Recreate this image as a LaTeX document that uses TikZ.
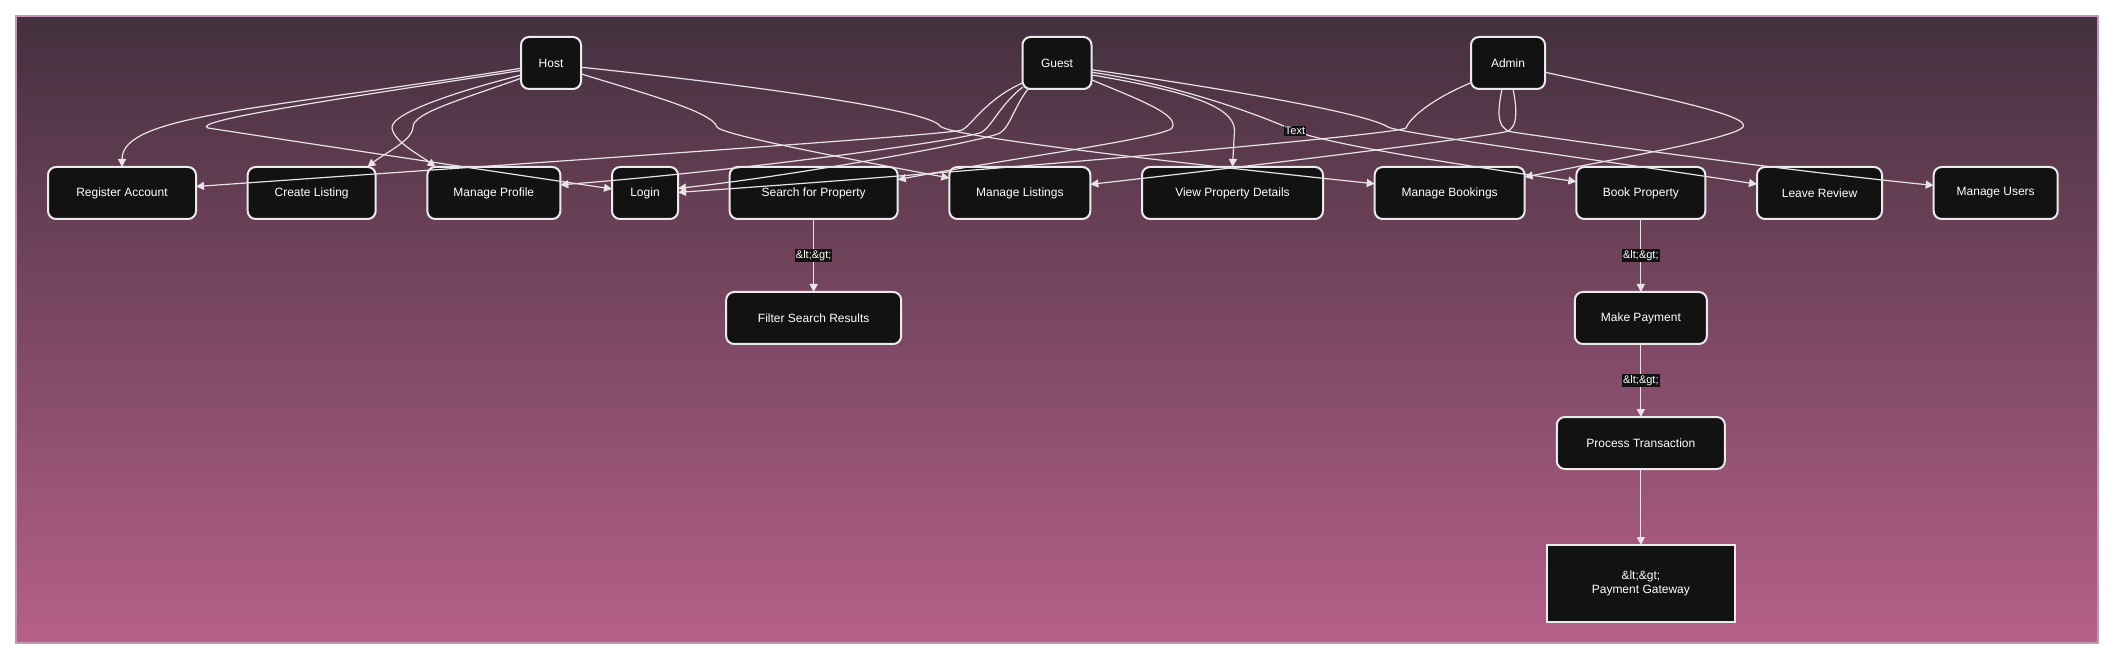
\documentclass[tikz,border=0pt]{standalone}
\usepackage{fontspec}
\setmainfont{Liberation Sans}
\usetikzlibrary{arrows.meta,positioning}

\definecolor{bgtop}{HTML}{43303D}
\definecolor{bgbot}{HTML}{B6608A}
\definecolor{bgline}{HTML}{C596B6}
\definecolor{boxfill}{HTML}{121212}
\definecolor{boxline}{HTML}{EAEAEA}
\definecolor{edgecol}{HTML}{E8E2E6}

\tikzset{
  box/.style={draw=boxline,line width=1.5pt,fill=boxfill,rounded corners=6pt,text=white,
    font=\fontsize{9}{11}\selectfont,minimum height=39pt,outer sep=0pt,inner sep=2pt},
  sbox/.style={box,sharp corners,align=center},
  lbl/.style={fill=boxfill,text=white,font=\fontsize{8.25}{10}\selectfont,inner sep=0.75pt},
  conn/.style={draw=edgecol,line width=0.9pt}
}

\begin{document}
\begin{tikzpicture}[x=0.75pt,y=-0.75pt,>={Triangle[length=6pt,width=6pt]},node distance=54.75pt and 38.75pt]

                \useasboundingbox (0,0) rectangle (2114,659);
                \shade[top color=bgtop,bottom color=bgbot] (16,16) rectangle (2098,643);
                \draw[bgline,line width=1.5pt] (16,16) rectangle (2098,643);

                \node[box,minimum width=45pt] (host) at (551,63) {Host};
                \node[box,minimum width=51.75pt] (guest) at (1057,63) {Guest};
                \node[box,minimum width=55.5pt] (admin) at (1508,63) {Admin};

                \node[box,minimum width=111pt] (reg) at (122,193) {Register Account};
                \node[box,minimum width=96pt] (createl) [right=of reg] {Create Listing};
                \node[box,minimum width=99.75pt] (mprof) [right=of createl] {Manage Profile};
                \node[box,minimum width=49.5pt] (login) [right=of mprof] {Login};
                \node[box,minimum width=126pt] (search) [right=of login] {Search for Property};
                \node[box,minimum width=105.75pt] (mlist) [right=of search] {Manage Listings};
                \node[box,minimum width=135.75pt] (vpd) [right=of mlist] {View Property Details};
                \node[box,minimum width=112.5pt] (mbook) [right=of vpd] {Manage Bookings};
                \node[box,minimum width=96.75pt] (bookp) [right=of mbook] {Book Property};
                \node[box,minimum width=93.75pt] (leaver) [right=of bookp] {Leave Review};
                \node[box,minimum width=93pt] (musers) [right=of leaver] {Manage Users};

                \node[box,minimum width=131.25pt] (filter) [below=of search] {Filter Search Results};
                \node[box,minimum width=99pt] (makep) [below=of bookp] {Make Payment};
                \node[box,minimum width=126pt] (proct) [below=of makep] {Process Transaction};
                \node[sbox,minimum width=141pt,minimum height=57.75pt] (payg) [below=57pt of proct] {\&lt;\&gt;\\Payment Gateway};

                \draw[conn,->] (host.190) .. controls (260,110) and (122,115) .. (reg.north);
                \draw[conn,->] (host.194) .. controls (330,100) and (190,121) .. (208,128) .. controls (240,133) and (450,165) .. (login.173);
                \draw[conn,->] (host.207) .. controls (460,100) and (413,113) .. (413,127) .. controls (413,140) and (385,153) .. (createl.25);
                \draw[conn,->] (host.202) .. controls (470,88) and (390,112) .. (392,128) .. controls (394,142) and (420,155) .. (mprof.156);
                \draw[conn,->] (host.340) .. controls (650,95) and (712,112) .. (717,127) .. controls (720,133) and (800,150) .. (mlist.168);
                \draw[conn,->] (host.352) .. controls (750,85) and (930,110) .. (940,126) .. controls (948,136) and (1150,160) .. (mbook.173);

                \draw[conn,->] (guest.210) .. controls (985,100) and (972,125) .. (962,130) .. controls (950,135) and (500,165) .. (reg.5);
                \draw[conn,->] (guest.215) .. controls (1000,105) and (992,126) .. (982,132) .. controls (970,139) and (750,170) .. (mprof.7);
                \draw[conn,->] (guest.222) .. controls (1015,105) and (1010,127) .. (1000,133) .. controls (985,141) and (800,175) .. (login.8);
                \draw[conn,->] (guest.334) .. controls (1140,100) and (1180,115) .. (1172,128) .. controls (1165,138) and (1000,160) .. (search.9);
                \draw[conn,->] (guest.341) .. controls (1180,90) and (1234,105) .. (1234.5,130) -- (vpd.north);
                \draw[conn,->] (guest.345) .. controls (1180,85) and (1265,117) .. (1295,131) node[lbl] {Text} .. controls (1330,145) and (1480,168) .. (bookp.170);
                \draw[conn,->] (guest.349) .. controls (1200,85) and (1365,112) .. (1388,127) .. controls (1398,133) and (1600,160) .. (leaver.172);

                \draw[conn,->] (admin.208) .. controls (1430,100) and (1410,118) .. (1406,128) .. controls (1400,134) and (1000,170) .. (login.1);
                \draw[conn,->] (admin.281) .. controls (1516,105) and (1520,129) .. (1505,132) .. controls (1450,142) and (1200,172) .. (mlist.7);
                \draw[conn,->] (admin.257) .. controls (1499,105) and (1494,129) .. (1512,132) .. controls (1600,145) and (1800,172) .. (musers.173);
                \draw[conn,->] (admin.346) .. controls (1650,95) and (1752,115) .. (1743,127) .. controls (1735,138) and (1620,158) .. (mbook.12);

                \draw[conn,->] (search) -- node[lbl] {\&lt;\&gt;} (filter);
                \draw[conn,->] (bookp) -- node[lbl] {\&lt;\&gt;} (makep);
                \draw[conn,->] (makep) -- node[lbl] {\&lt;\&gt;} (proct);
                \draw[conn,->] (proct) -- (payg);

            \end{tikzpicture}
\end{document}
